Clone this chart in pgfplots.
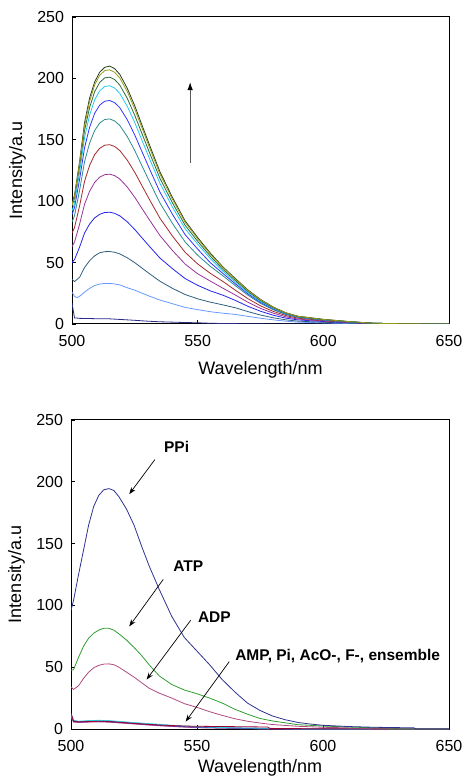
\documentclass[border=0pt]{standalone}
\usepackage{fontspec}
\setmainfont{Liberation Sans}
\usepackage{pgfplots}
\pgfplotsset{compat=1.18}
\usetikzlibrary{arrows.meta}
\definecolor{cA}{HTML}{243F1E}
\definecolor{cB}{HTML}{9A9A1A}
\definecolor{cC}{HTML}{2E6B3A}
\definecolor{cD}{HTML}{22C8EE}
\definecolor{cE}{HTML}{3333FF}
\definecolor{cF}{HTML}{2E8B8B}
\definecolor{cG}{HTML}{A52A2A}
\definecolor{cH}{HTML}{993399}
\definecolor{cI}{HTML}{2424EE}
\definecolor{cJ}{HTML}{2F5F7F}
\definecolor{cK}{HTML}{6699FF}
\definecolor{cL}{HTML}{2A2A88}
\definecolor{ppi}{HTML}{2E3192}
\definecolor{atp}{HTML}{2E9E2E}
\definecolor{adp}{HTML}{B04A7E}
\definecolor{bcy}{HTML}{33CCDD}
\definecolor{bred}{HTML}{990033}
\definecolor{bpur}{HTML}{7B3F9E}
\definecolor{bblu}{HTML}{3333AA}
\definecolor{bpnk}{HTML}{CC6699}
\tikzset{ann/.style={font=\bfseries\fontsize{15.5bp}{18bp}\selectfont}}
\pgfplotsset{
  spec/.style={
    scale only axis, xmin=500, xmax=650, ymin=0, ymax=250,
    xtick={500,550,600,650}, ytick={0,50,...,250},
    tick pos=left, tick align=inside, major tick length=4bp,
    axis line style={line width=1bp}, tick style={line width=0.8bp, black},
    /pgf/number format/assume math mode=true,
    ticklabel style={font=\fontsize{16bp}{19bp}\selectfont},
    yticklabel style={xshift=-4.5bp},
    xticklabel style={yshift=-8bp},
    label style={font=\fontsize{18bp}{21bp}\selectfont},
    xlabel={Wavelength/nm}, ylabel={Intensity/a.u},
    ylabel style={at={(axis description cs:0,0.5)}, anchor=center, yshift=54.5bp},
    every axis plot/.append style={line width=0.8bp, no markers},
  },
}
\begin{document}
\begin{tikzpicture}
\path[use as bounding box] (0,0) rectangle (468bp,778bp);
% upper panel: titration
\begin{axis}[spec, at={(72bp,454bp)}, anchor=south west, width=377bp, height=307bp,
  xlabel style={at={(axis description cs:0.5,0)}, anchor=center, yshift=-46bp}]
\addplot[cL] coordinates {(500,17)(501,5)(503,4.6)(505,4.5)(510,4.3)(515,4.2)(520,3.6)(525,3)(530,2.3)(535,1.8)(540,1.5)(545,1.2)(550,1)(555,0.6)(560,0.4)(570,0.2)(580,0)(650,0)};
\addplot[cK] coordinates {(500,26)(501,22.5)(502,21.5)(503,22.5)(505,26)(507,29)(509,31.3)(511,32.5)(513,33)(515,33)(517,32.6)(519,31.8)(522,29.5)(525,27.5)(528,25)(531,22.5)(535,19.5)(540,16.5)(545,13.5)(550,11.7)(555,10)(560,8.8)(565,7.8)(570,6.2)(575,4.7)(580,3.4)(585,2.3)(590,1.5)(600,0.9)(610,0.4)(620,0.1)(635,0)(650,0)};
\addplot[cJ] coordinates {(500,36.6)(501,34.5)(503,38)(505,46)(507,51.5)(509,55.5)(511,58)(513,58.9)(515,59)(517,58.4)(519,57.1)(522,53.9)(525,49.9)(528,45.3)(531,40.7)(535,34.8)(540,29)(545,24)(550,20.5)(555,17.8)(560,15.6)(565,13.2)(570,10.1)(575,7.3)(580,5.1)(585,3.4)(590,2.3)(600,1.4)(610,0.7)(620,0.2)(635,0)(650,0)};
\addplot[cI] coordinates {(500,50)(501,52.5)(503,62.5)(505,74.1)(507,81.4)(509,86.4)(511,89.3)(513,90.8)(515,91)(517,90.1)(519,88.1)(522,83.2)(525,76.9)(528,69.8)(531,62.8)(535,53.7)(540,45)(545,37)(550,31.5)(555,27)(560,23.5)(565,19.2)(570,14.4)(575,10.4)(580,7.2)(585,4.8)(590,3.3)(600,2)(610,1.1)(620,0.4)(635,0)(650,0)};
\addplot[cH] coordinates {(500,63)(501,66.7)(503,81.1)(505,97.6)(507,108.1)(509,115.3)(511,119.6)(513,121.6)(515,122)(517,120.8)(519,118.1)(522,111.5)(525,103.1)(528,93.6)(531,84.2)(535,72)(540,59.8)(545,48.8)(550,40.9)(555,35)(560,29.2)(565,23.6)(570,17.7)(575,12.7)(580,8.9)(585,5.9)(590,4)(600,2.4)(610,1.3)(620,0.4)(635,0.1)(650,0)};
\addplot[cG] coordinates {(500,74)(501,78.5)(503,96)(505,116.3)(507,129.1)(509,137.9)(511,143)(513,145.6)(515,146)(517,144.5)(519,141.3)(522,133.4)(525,123.4)(528,112)(531,100.7)(535,86.1)(540,71.5)(545,58.4)(550,48.9)(555,41.3)(560,34.7)(565,27.5)(570,20.6)(575,14.8)(580,10.3)(585,6.9)(590,4.7)(600,2.8)(610,1.5)(620,0.5)(635,0.1)(650,0)};
\addplot[cF] coordinates {(500,83)(501,88.2)(503,108.7)(505,132.3)(507,147.3)(509,157.5)(511,163.6)(513,166.5)(515,167)(517,165.3)(519,161.7)(522,152.6)(525,141.1)(528,128.1)(531,115.2)(535,98.5)(540,81.8)(545,66.8)(550,56)(555,47)(560,39.3)(565,31.2)(570,23.4)(575,16.8)(580,11.7)(585,7.8)(590,5.3)(600,3.2)(610,1.7)(620,0.5)(635,0.1)(650,0)};
\addplot[cE] coordinates {(500,89)(501,94.8)(503,117.5)(505,143.6)(507,160.1)(509,171.5)(511,178.2)(513,181.4)(515,182)(517,180.2)(519,176.2)(522,166.3)(525,153.8)(528,139.6)(531,125.6)(535,107.4)(540,89.2)(545,72.8)(550,61)(555,50)(560,41.2)(565,32.7)(570,24.5)(575,17.6)(580,12.3)(585,8.2)(590,5.6)(600,3.3)(610,1.8)(620,0.6)(635,0.1)(650,0)};
\addplot[cD] coordinates {(500,92)(501,98.3)(503,123.2)(505,151.9)(507,170)(509,182.5)(511,189.8)(513,193.4)(515,194)(517,192.1)(519,187.8)(522,177.3)(525,163.9)(528,148.8)(531,133.9)(535,114.5)(540,95.1)(545,77.6)(550,65)(555,53.4)(560,43.1)(565,34.1)(570,25.6)(575,18.4)(580,12.8)(585,8.5)(590,5.8)(600,3.5)(610,1.8)(620,0.6)(635,0.1)(650,0)};
\addplot[cC] coordinates {(500,96)(501,102.5)(503,128.1)(505,157.6)(507,176.3)(509,189.1)(511,196.7)(513,200.4)(515,201)(517,199)(519,194.6)(522,183.7)(525,169.8)(528,154.2)(531,138.7)(535,118.6)(540,98.5)(545,80.4)(550,67.3)(555,55.3)(560,44.6)(565,35.4)(570,26.5)(575,19.1)(580,13.3)(585,8.8)(590,6)(600,3.6)(610,1.9)(620,0.6)(635,0.1)(650,0)};
\addplot[cA] coordinates {(500,98)(501,105)(503,132)(505,164)(507,184)(509,197)(511,205)(513,209)(515,210)(517,207.9)(519,203.3)(522,191.9)(525,177.5)(528,161.1)(531,144.9)(535,123.9)(540,102.9)(545,84)(550,70.4)(555,57.8)(560,46.6)(565,37)(570,27.7)(575,20)(580,13.9)(585,9.2)(590,6.3)(600,3.8)(610,2)(620,0.6)(635,0.1)(650,0)};
\addplot[cB] coordinates {(500,97)(501,103.8)(503,130.7)(505,161.6)(507,181.2)(509,194.6)(511,202.5)(513,206.3)(515,207)(517,204.9)(519,200.4)(522,189.2)(525,174.9)(528,158.8)(531,142.8)(535,122.1)(540,101.4)(545,82.8)(550,69.3)(555,56.9)(560,46)(565,36.4)(570,27.3)(575,19.7)(580,13.7)(585,9.1)(590,6.2)(600,3.7)(610,2)(620,0.6)(635,0.1)(650,0)};
\draw[draw=black!65, line width=1bp, -{Latex[length=8bp,width=5.5bp,black]}] (axis cs:547,131) -- (axis cs:547,197);
\end{axis}
% lower panel: selectivity
\begin{axis}[spec, at={(71bp,49bp)}, anchor=south west, width=378bp, height=309bp,
  xlabel style={at={(axis description cs:0.5,0)}, anchor=center, yshift=-39bp}]
\addplot[bpnk] coordinates {(500,10)(501,5.5)(503,5.2)(507,5.5)(511,5.8)(515,5.5)(520,4.8)(525,4)(530,3.3)(535,2.6)(540,2)(545,1.5)(550,1)(560,0.6)(570,0.2)(580,0)(650,0)};
\addplot[bpur] coordinates {(500,11)(501,6)(503,5.5)(507,5.8)(511,6)(515,5.7)(520,5)(525,4.3)(530,3.5)(535,2.8)(540,2.2)(545,1.7)(550,1.3)(560,0.8)(570,0.4)(580,0)(650,0)};
\addplot[bblu] coordinates {(500,12.5)(501,6.2)(503,5.9)(507,6.3)(511,6.5)(515,6.3)(520,5.6)(525,4.8)(530,4)(535,3.4)(540,2.7)(545,2)(550,1.6)(560,1)(570,0.6)(580,0.2)(590,0)(650,0)};
\addplot[bcy] coordinates {(500,12)(501,7)(503,6.3)(507,6.8)(511,7)(515,6.8)(520,6)(525,5.2)(530,4.5)(535,3.8)(540,3)(545,2.4)(550,1.8)(560,1.2)(570,0.8)(580,0.5)(585,0.3)(590,0)(650,0)};
\addplot[bred] coordinates {(500,13)(501,6.5)(503,5.8)(507,6)(511,6.3)(515,6)(520,5.3)(525,4.5)(530,3.8)(535,3.2)(540,2.8)(545,2.4)(550,2.2)(560,2)(570,1.8)(578,1.6)(579,0.4)(600,0.2)(650,0)};
\addplot[adp] coordinates {(500,34)(501,32)(503,35)(505,41)(507,46)(509,49.5)(511,51.5)(513,52.5)(515,52.7)(517,52)(519,50)(522,46)(525,42)(528,37.5)(531,33)(535,29)(540,25)(545,20.5)(550,17.5)(555,14)(560,11)(565,8.3)(570,6.3)(575,4.8)(580,3.6)(585,2.9)(590,2.2)(600,1.4)(610,0.9)(618,0.6)(619,0)(650,0)};
\addplot[atp] coordinates {(500,47.5)(501,48)(503,58)(505,67)(507,73.5)(509,77.5)(511,80)(513,81.5)(515,81.5)(517,80)(519,77)(522,72)(525,66)(528,59.5)(531,52)(535,43)(540,36)(545,31.5)(550,28.5)(555,25)(560,21)(565,16)(570,12)(575,8.5)(580,6.5)(585,5)(590,3.5)(600,2.4)(610,1.6)(620,1)(626,0.8)(627,0)(650,0)};
\addplot[ppi] coordinates {(500,96)(501,104)(503,125)(505,145)(507,165)(509,180)(511,189)(513,193.5)(515,194.5)(517,193)(519,188)(522,178)(525,165)(528,148)(531,132)(535,113)(540,91)(545,74)(550,63)(555,52)(560,40)(565,30)(570,21)(575,15)(580,10.5)(585,7.5)(590,5.3)(595,4)(600,3)(610,2)(620,1.4)(630,1.1)(636,1)(637,0)(650,0)};
\node[ann] at (axis cs:541.9,228) {PPi};
\node[ann] at (axis cs:546.5,132) {ATP};
\node[ann] at (axis cs:556.9,90.4) {ADP};
\node[ann, anchor=west] at (axis cs:563.8,59.3) {AMP, Pi, AcO-, F-, ensemble};
\draw[line width=0.7bp, -{Stealth[length=7bp,width=5bp]}] (axis cs:533.3,218) -- (axis cs:523.1,190);
\draw[line width=0.7bp, -{Stealth[length=7bp,width=5bp]}] (axis cs:536.6,121) -- (axis cs:523.1,83);
\draw[line width=0.7bp, -{Stealth[length=7bp,width=5bp]}] (axis cs:547.5,88) -- (axis cs:530,40);
\draw[line width=0.7bp, -{Stealth[length=7bp,width=5bp]}] (axis cs:562.8,54.5) -- (axis cs:545.5,6);
\end{axis}
\end{tikzpicture}
\end{document}
